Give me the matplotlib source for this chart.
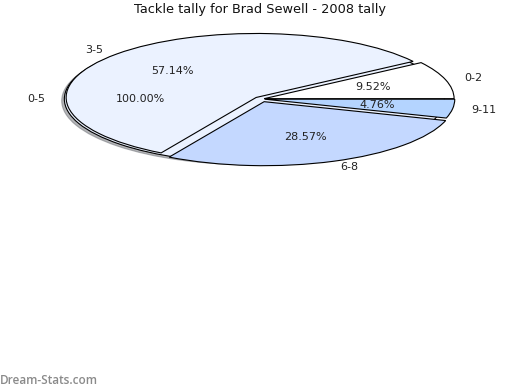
import matplotlib
matplotlib.use('Agg')
import matplotlib.pyplot as plt

# Tackle tally buckets for Brad Sewell, 2008
labels = ['0-2', '3-5', '6-8', '9-11']
counts = [2, 12, 6, 1]
colors = ['#ffffff', '#ebf2ff', '#c4d8ff', '#b4d4ff']
explode = [0.017, 0.035, 0.045, 0.02]

# background "total" slice
total_label = ['0-5']
total_count = [sum(counts)]

fig = plt.figure(figsize=(5.2, 3.9), dpi=100)

# axes placed so that 1 unit = 190 px across and 64 px down, centre at (261, 99)
cx, cy, rx, ry = 261, 99, 190, 64
xl, yl = 1.35, 1.5
ax = fig.add_axes([(cx - xl * rx) / 520, (390 - cy - yl * ry) / 390,
                   2 * xl * rx / 520, 2 * yl * ry / 390])

wedge_kw = dict(edgecolor='black', linewidth=0.8)
txt_kw = dict(fontsize=8, color='#222222')

ax.pie(total_count, labels=total_label, colors=['#ebf2ff'], explode=[0.035],
       autopct='%.2f%%', pctdistance=0.6, labeldistance=1.1,
       shadow={'ox': -0.01, 'oy': -0.02, 'shade': 0.55},
       wedgeprops=wedge_kw, textprops=txt_kw)

ax.pie(counts, labels=labels, colors=colors, explode=explode,
       autopct='%.2f%%', pctdistance=0.6, labeldistance=1.1,
       wedgeprops=wedge_kw, textprops=txt_kw)

ax.set_aspect('auto')
ax.set_xlim(-xl, xl)
ax.set_ylim(-yl, yl)
ax.axis('off')

fig.text(0.5, 1 - 10 / 390, 'Tackle tally for Brad Sewell - 2008 tally',
         ha='center', va='center', fontsize=9.3, color='#111111')
fig.text(0.0, 1 - 380 / 390, 'Dream-Stats.com', ha='left', va='center',
         fontsize=8.5, color='#8a8a8a', family='Open Sans', weight='semibold')

fig.savefig('out.png', dpi=100)
